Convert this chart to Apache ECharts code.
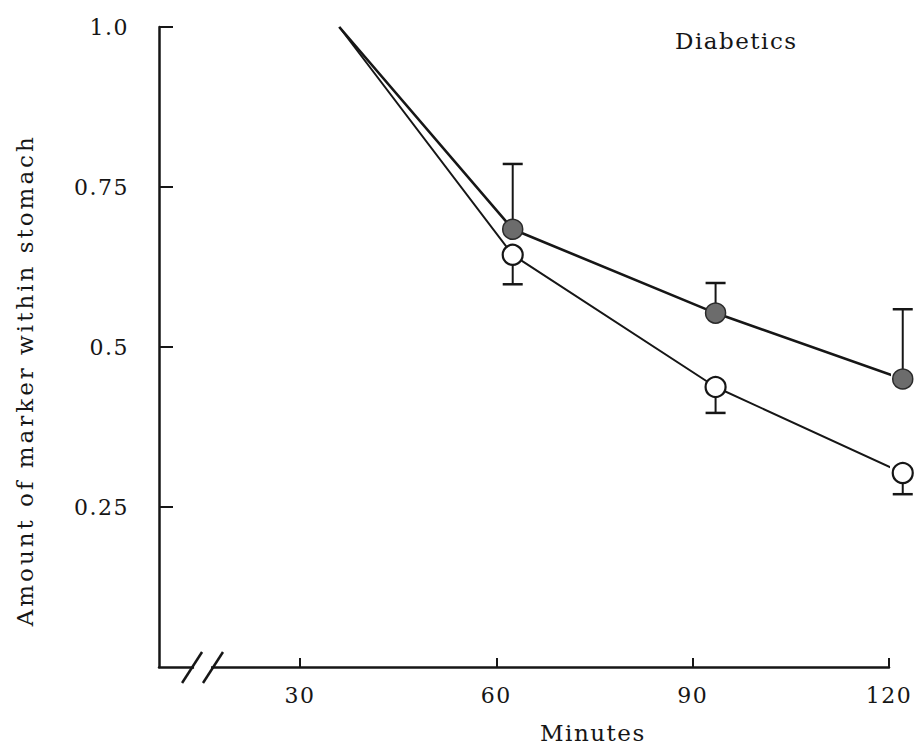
<!DOCTYPE html>
<html>
<head>
<meta charset="utf-8">
<script src="https://cdn.jsdelivr.net/npm/echarts@6/dist/echarts.min.js"></script>
<style>
  html, body { margin: 0; padding: 0; background: #ffffff; }
  #chart { width: 918px; height: 750px; }
  #chart text { letter-spacing: 1.5px; }
</style>
</head>
<body>
<div id="chart"></div>
<script>
// Sampling times (minutes) and fraction of the marker still in the stomach
const minutes      = [36, 62.5, 93.5, 122.1];
const filledMean   = [1.0, 0.684, 0.553, 0.450];
const filledUpper  = [null, 0.786, 0.600, 0.559];
const openMean     = [1.0, 0.644, 0.4375, 0.303];
const openLower    = [null, 0.598, 0.397, 0.270];
const xTickValues  = [30, 60, 90, 120];
const yTickValues  = [0.25, 0.5, 0.75, 1.0];
const yTickLabels  = ['0.25', '0.5', '0.75', '1.0'];
const yTitle       = 'Amount of marker within stomach';
const xTitle       = 'Minutes';
const panelTitle   = 'Diabetics';

const INK = '#161616';
const FONT = 'DejaVu Serif';

const chart = echarts.init(document.getElementById('chart'), null, { renderer: 'svg' });

function pairs(xs, ys) { return xs.map((x, i) => [x, ys[i]]); }
function bars(xs, mean, lim) {
  const out = [];
  xs.forEach((x, i) => { if (lim[i] != null) out.push([x, mean[i], lim[i]]); });
  return out;
}

// vertical error whisker with a flat cap at the limit
function whisker(params, api) {
  const p0 = api.coord([api.value(0), api.value(1)]);
  const p1 = api.coord([api.value(0), api.value(2)]);
  const hw = 10;
  return {
    type: 'group',
    children: [
      { type: 'line', shape: { x1: p0[0], y1: p0[1], x2: p1[0], y2: p1[1] },
        style: { stroke: INK, lineWidth: 2 } },
      { type: 'line', shape: { x1: p1[0] - hw, y1: p1[1], x2: p1[0] + hw, y2: p1[1] },
        style: { stroke: INK, lineWidth: 2.5 } }
    ]
  };
}

chart.setOption({
  animation: false,
  backgroundColor: '#ffffff',
  textStyle: { fontFamily: FONT, color: INK },
  title: [
    { text: panelTitle, left: 675, top: 29, padding: 0,
      textStyle: { fontFamily: FONT, fontWeight: 'normal', fontSize: 23, color: INK } },
    { text: xTitle, left: 540, top: 721, padding: 0,
      textStyle: { fontFamily: FONT, fontWeight: 'normal', fontSize: 23, color: INK } }
  ],
  grid: { left: 159, right: 29, top: 27, bottom: 83, containLabel: false },
  xAxis: {
    type: 'value',
    min: 8.45,
    max: 120,
    splitLine: { show: false },
    axisLine: { show: true, onZero: false, lineStyle: { color: INK, width: 2.5 } },
    axisTick: { show: true, inside: true, length: 9, customValues: xTickValues,
                lineStyle: { color: INK, width: 2 } },
    axisLabel: { customValues: xTickValues, margin: 17, fontSize: 22,
                 fontFamily: FONT, color: INK }
  },
  yAxis: {
    type: 'value',
    min: 0,
    max: 1.0,
    splitLine: { show: false },
    axisLine: { show: true, onZero: false, lineStyle: { color: INK, width: 2.5 } },
    axisTick: { show: true, inside: true, length: 14, customValues: yTickValues,
                lineStyle: { color: INK, width: 2 } },
    axisLabel: {
      customValues: yTickValues, margin: 30, fontSize: 22, fontFamily: FONT, color: INK,
      formatter: v => yTickLabels[yTickValues.indexOf(v)] ?? ''
    }
  },
  series: [
    {
      name: 'whisker-filled', type: 'custom', renderItem: whisker, clip: false, z: 1,
      data: bars(minutes, filledMean, filledUpper)
    },
    {
      name: 'whisker-open', type: 'custom', renderItem: whisker, clip: false, z: 1,
      data: bars(minutes, openMean, openLower)
    },
    {
      name: 'filled', type: 'line', clip: false, z: 3,
      data: pairs(minutes, filledMean),
      lineStyle: { color: INK, width: 2.6 },
      symbol: 'circle', symbolSize: (v, p) => p.dataIndex === 0 ? 0 : 20,
      itemStyle: { color: '#6c6c6c', borderColor: '#2a2a2a', borderWidth: 1.5 }
    },
    {
      name: 'open', type: 'line', clip: false, z: 3,
      data: pairs(minutes, openMean),
      lineStyle: { color: INK, width: 2 },
      symbol: 'circle', symbolSize: (v, p) => p.dataIndex === 0 ? 0 : 20,
      itemStyle: { color: '#ffffff', borderColor: INK, borderWidth: 2.2 }
    }
  ]
});

// axis break marks on the time axis, placed in axis units
const b1 = chart.convertToPixel({ gridIndex: 0 }, [13.5, 0]);
const b2 = chart.convertToPixel({ gridIndex: 0 }, [16.7, 0]);
const yMid = chart.convertToPixel({ gridIndex: 0 }, [8.45, 0.448]);
chart.setOption({
  graphic: [
    { type: 'rect', shape: { x: b1[0] + 2, y: b1[1] - 4, width: b2[0] - b1[0] - 4, height: 8 },
      style: { fill: '#ffffff' }, z: 10 },
    { type: 'line', shape: { x1: b1[0] - 10, y1: b1[1] + 16, x2: b1[0] + 10, y2: b1[1] - 15 },
      style: { stroke: INK, lineWidth: 2.5 }, z: 11 },
    { type: 'line', shape: { x1: b2[0] - 10, y1: b2[1] + 16, x2: b2[0] + 10, y2: b2[1] - 15 },
      style: { stroke: INK, lineWidth: 2.5 }, z: 11 },
    { id: 'ytitle', type: 'text', x: 25, y: yMid[1], rotation: Math.PI / 2,
      style: { text: yTitle, font: '23px "DejaVu Serif"', fill: INK,
               textAlign: 'center', textVerticalAlign: 'middle' }, z: 11 }
  ]
});

// the rotated axis title is set with wider tracking than the other text
function trackTitle() {
  document.querySelectorAll('#chart text').forEach(t => {
    if (t.textContent === yTitle) t.style.letterSpacing = '3px';
  });
}
trackTitle();
chart.on('finished', trackTitle);
</script>
</body>
</html>
